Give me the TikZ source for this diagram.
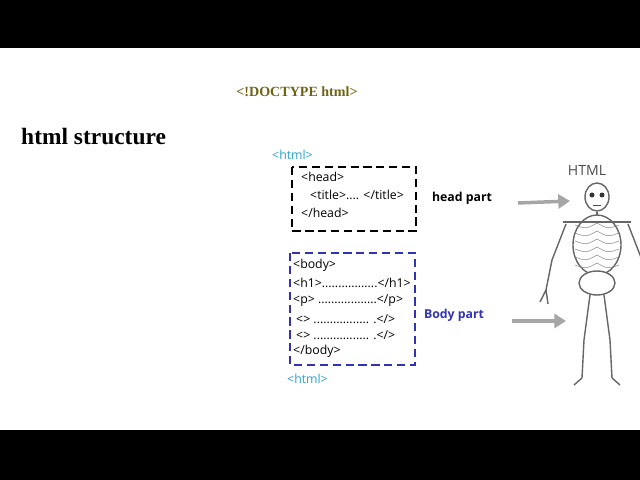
\documentclass[tikz,border=0pt]{standalone}
\usepackage{fontspec}
\setsansfont{Open Sans}
\newfontfamily\timesfont{Liberation Serif}
\usetikzlibrary{arrows.meta}
\definecolor{tagblue}{RGB}{40,160,210}
\definecolor{bodyblue}{RGB}{50,50,180}
\definecolor{olive}{RGB}{110,100,20}
\begin{document}
\begin{tikzpicture}[x=0.03cm,y=-0.03cm,
    code/.style = {font=\sffamily\fontsize{10.5}{12}\selectfont, anchor=west, inner sep=0pt},
    tag/.style = {code, text=tagblue},
    part/.style = {font=\sffamily\bfseries\fontsize{10.5}{12}\selectfont, inner sep=0pt},
    pointer/.style = {draw=black!35, line width=3pt, -{Triangle[length=10pt,width=12pt]}},
    bone/.style = {draw=black!60, fill=white, line width=1.2pt}]
    \useasboundingbox (0,0) rectangle (640,480);
    \fill[black] (0,0) rectangle (640,48);
    \fill[black] (0,430) rectangle (640,480);
    % titles
    \node (doctype) at (297,92) {\timesfont\fontsize{12}{14}\selectfont\bfseries\color{olive}<!DOCTYPE html>};
    \node[anchor=west, inner sep=0pt] (title) at (21,137) {\timesfont\fontsize{20}{22}\selectfont\bfseries html structure};
    % head part
    \node[tag] (htmlopen) at (272,155) {<html>};
    \draw[line width=1pt, dash pattern=on 7pt off 4pt] (292,167) rectangle (416,231);
    \node[code] (head) at (301,177) {<head>};
    \node[code] (titletag) at (310,195) {<title>.... </title>};
    \node[code] (headend) at (301,213) {</head>};
    \node[part] (headpart) at (462,198) {head part};
    % body part
    \draw[bodyblue, line width=0.9pt, dash pattern=on 7pt off 4pt] (290,253) rectangle (415,365);
    \node[code] (body) at (293,265) {<body>};
    \node[code] (hone) at (293,283) {<h1>.................</h1>};
    \node[code] (para) at (293,301) {<p> ..................</p>};
    \node[code] (tagone) at (296,319) {<> ................. .</>};
    \node[code] (tagtwo) at (296,335) {<> ................. .</>};
    \node[code] (bodyend) at (293,351) {</body>};
    \node[part, text=bodyblue] (bodypart) at (454,315) {Body part};
    \node[tag] (htmlclose) at (287,379) {<html>};
    % skeleton
    \node[font=\sffamily\fontsize{12}{14}\selectfont, text=black!70] (htmllabel) at (587,170) {HTML};
    \coordinate (chest) at (570,201);
    \coordinate (knee) at (566,321);
    \draw[pointer] (518,203) -- (chest);
    \draw[pointer] (512,321) -- (knee);
    \draw[bone] (566,224) -- (552,260) -- (546,290);
    \draw[bone] (628,224) -- (642,260) -- (648,290);
    \draw[bone] (546,290) -- (540,302) (546,290) -- (548,304);
    \draw[bone] (590,295) -- (584,340) -- (582,378);
    \draw[bone] (604,295) -- (610,340) -- (612,378);
    \draw[bone] (582,378) -- (574,385) (612,378) -- (620,385);
    \draw[bone] (597,212) -- (597,275);
    \draw[bone] (597,245) ellipse (24 and 30);
    \foreach \y in {225,233,...,265}
        \draw[black!50] (575,\y) .. controls (586,\y+4) .. (597,\y-2) .. controls (608,\y+4) .. (619,\y);
    \draw[bone] (563,222) -- (631,222);
    \draw[bone] (597,283) ellipse (18 and 12);
    \draw[bone] (597,197) ellipse (12 and 14);
    \fill[black!80] (592,195) circle (2.5) (602,195) circle (2.5);
    \draw[black!70] (593,205) -- (601,205);
\end{tikzpicture}
\end{document}
